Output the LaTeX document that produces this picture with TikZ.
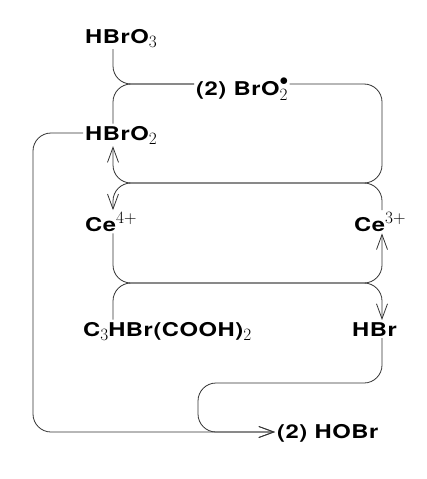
\documentclass[tikz,border=0pt]{standalone}
\usepackage{fontspec}
\setmainfont{TeX Gyre Heros}[FakeStretch=1.25,LetterSpace=3]
\usetikzlibrary{arrows.meta}
\newcommand\sbs[1]{\raisebox{-4pt}{\fontsize{18}{18}\selectfont$#1$}}
\newcommand\sps[1]{\raisebox{7.5pt}{\fontsize{17}{17}\selectfont$#1$}}
\newcommand\rad{\raisebox{9.5pt}{\fontsize{17}{17}\selectfont$\bullet$}}
\tikzset{
  chem/.style={inner sep=2pt, anchor=base west, font=\fontsize{19}{21}\selectfont\bfseries},
  conn/.style={draw=black!80, line width=0.8pt, rounded corners=18pt},
  arr/.style={-{Straight Barb[length=15pt,width=11pt,line width=0.8pt]}}
}
\begin{document}
\begin{tikzpicture}[x=1pt,y=-1pt]
\useasboundingbox (0,0) rectangle (427,479);
\coordinate (xl) at (113,0);
\coordinate (xr) at (382,0);
\coordinate (xo) at (33,0);
\coordinate (xm) at (198,0);
\coordinate (ya) at (0,84);
\coordinate (yb) at (0,183);
\coordinate (yc) at (0,283);
\coordinate (yd) at (0,383);
\coordinate (yh) at (0,133);
\coordinate (ye) at (0,432);

\node[chem] (hbro3) at (83,43) {HBrO\sbs{3}};
\node[chem] (hbro2) at (83,140) {HBrO\sbs{2}};
\node[chem] (bro2) at (194,95) {(2) BrO\rlap{\rad}\raisebox{-1pt}{\sbs{2}}\hspace{6pt}};
\node[chem] (ce4) at (83,231) {Ce\sps{4+}};
\node[chem] (ce3) at (352,231) {Ce\sps{3+}};
\node[chem] (mal) at (81,336) {C\sbs{3}HBr(COOH)\sbs{2}};
\node[chem] (hbr) at (350,336) {HBr};
\node[chem] (hobr) at (275,438) {(2) HOBr};

\draw[conn] (hbro3.south -| xl) |- (bro2.west |- ya);
\draw[conn] (hbro2.north -| xl) |- (bro2.west |- ya);
\draw[conn,arr] (bro2.east |- ya) -| (xr |- yb) -| (hbro2.south -| xl);
\draw[conn,arr] (ce3.north -| xr) |- (xl |- yb) -- (ce4.north -| xl);
\draw[conn,arr] (ce4.south -| xl) |- (xr |- yc) -- (ce3.south -| xr);
\draw[conn,arr] (mal.north -| xl) |- (xr |- yc) -- (hbr.north -| xr);
\draw[conn,arr] (hbro2.west |- yh) -| (xo |- ye) -- (hobr.west |- ye);
\draw[conn,arr] (hbr.south -| xr) |- (xm |- yd) |- (hobr.west |- ye);
\end{tikzpicture}
\end{document}
